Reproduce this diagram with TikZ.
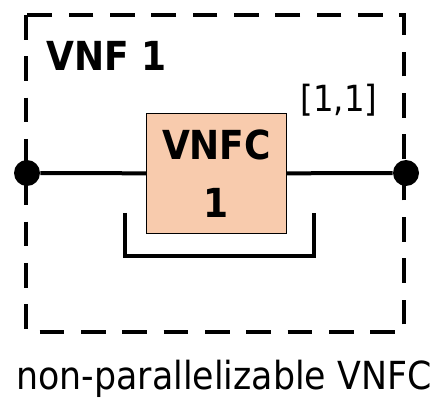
\documentclass[tikz,border=0pt]{standalone}
\usepackage{fontspec}
\setmainfont{DejaVu Sans Condensed}
\usepackage{tikz}
\usetikzlibrary{positioning}
\definecolor{vnfcfill}{HTML}{F8CBAD}

\begin{document}
\begin{tikzpicture}[x=0.75pt,y=-0.75pt,semithick,
                    vnf/.style={draw,line width=3.7pt,dash pattern=on 18.5pt off 12.5pt},
                    vnfc/.style={draw,line width=1.1pt,fill=vnfcfill,minimum width=105pt,
                      minimum height=90pt,inner sep=0pt,align=center,
                      font=\fontsize{30}{44}\selectfont\bfseries},
                    port/.style={circle,fill=black,minimum size=19.5pt,inner sep=0pt},
                    link/.style={line width=3pt}]
  \useasboundingbox (0,0) rectangle (436,399);
%  outer VNF frame
  \draw[vnf] (26,15) rectangle (404,332);

  \node[vnfc]          (C) at (216.5,173.5)        {VNFC\\1};
  \node[port]          (I) at (27,173)             {};
  \node[port]          (O) at (406,173)            {};
  \node                (V) at (107,56) [font=\fontsize{30}{36}\selectfont\bfseries] {VNF 1};
  \node                (R) at (339,100) [font=\fontsize{27}{32}\selectfont] {[1,1]};
  \node[anchor=base]   (T) at (224,389) [font=\fontsize{29}{34}\selectfont] {non-parallelizable VNFC};

  \coordinate (BL) at (125,213);
  \coordinate (BR) at (314,213);

  \path[link] (I) edge node {} (C)
              (C) edge node {} (O);
  \draw[line width=3.4pt] (BL) -- (BL |- 0,256) -- (BR |- 0,256) -- (BR);
\end{tikzpicture}
\end{document}
